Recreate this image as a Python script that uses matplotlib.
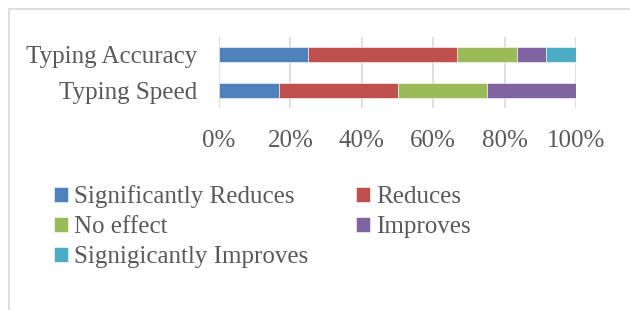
import matplotlib
matplotlib.use("Agg")
import matplotlib.pyplot as plt
from matplotlib.patches import Rectangle

# data (percent of respondents)
categories = ["Typing Speed", "Typing Accuracy"]
series_names = ["Significantly Reduces", "Reduces", "No effect",
                "Improves", "Signigicantly Improves"]
speed = [16.7, 33.3, 25.0, 25.0, 0.0]
accuracy = [25.0, 41.7, 16.7, 8.3, 8.3]
ticks = [0, 20, 40, 60, 80, 100]

COLOURS = ["#4F81BD", "#C0504D", "#9BBB59", "#8064A2", "#4BACC6"]
TEXT = "#595959"
GRID = "#D9D9D9"
FONT = "Liberation Serif"
FS = 18

W, H = 630, 310
fig = plt.figure(figsize=(W / 100, H / 100), dpi=100)
fig.patch.set_facecolor("white")

# light chart-area border (only left/top edges visible in the crop)
fig.patches.append(Rectangle((9 / W, -0.5), 2, 1.5 - 9 / H, transform=fig.transFigure,
                             fill=False, edgecolor=GRID, linewidth=1.2))

ax = fig.add_axes([219 / W, 1 - 108 / H, (576 - 219) / W, (108 - 37) / H])

rows = [speed, accuracy]
left = [0.0, 0.0]
handles = []
for i, name in enumerate(series_names):
    vals = [r[i] for r in rows]
    h = ax.barh(range(len(categories)), vals, left=left, height=0.42,
                color=COLOURS[i], edgecolor="white", linewidth=0.4,
                label=name, zorder=3)
    handles.append(h)
    left = [l + v for l, v in zip(left, vals)]

ax.set_xlim(0, 100)
ax.set_ylim(-0.5, 1.5)
ax.set_xticks(ticks)
ax.set_xticklabels([f"{t}%" for t in ticks])
ax.set_yticks(range(len(categories)))
ax.set_yticklabels(categories)
ax.grid(axis="x", color=GRID, linewidth=1.2, zorder=0)
for s in ax.spines.values():
    s.set_visible(False)
ax.tick_params(axis="both", length=0, colors=TEXT, labelsize=FS)
ax.tick_params(axis="x", pad=16)
ax.tick_params(axis="y", pad=16)
for lbl in ax.get_xticklabels() + ax.get_yticklabels():
    lbl.set_fontfamily(FONT)

# legend filled column-wise, so reorder to read row-wise like the original
order = [0, 2, 4, 1, 3]
leg = fig.legend([handles[k] for k in order], [series_names[k] for k in order],
                 loc="upper left", bbox_to_anchor=(44 / W, 1 - 175 / H),
                 ncol=2, frameon=False, prop={"family": FONT, "size": FS},
                 handlelength=0.55, handleheight=0.55, handletextpad=0.25,
                 labelspacing=0.33, columnspacing=1.9, borderaxespad=0)
for t in leg.get_texts():
    t.set_color(TEXT)

fig.savefig("out.png", dpi=100, facecolor="white")
